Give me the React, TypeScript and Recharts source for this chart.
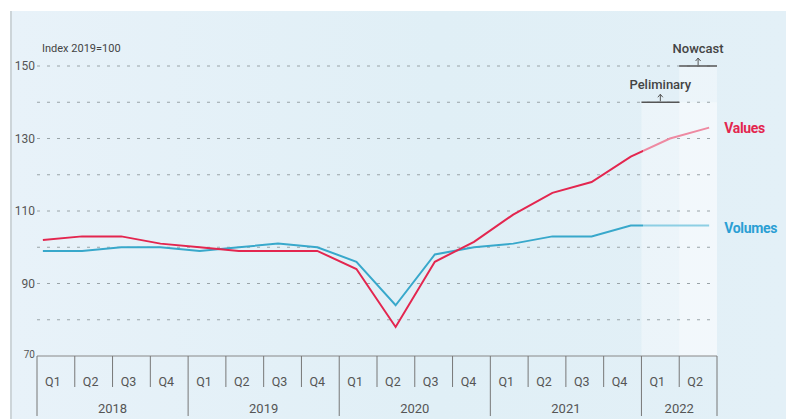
import {
  LineChart,
  Line,
  XAxis,
  YAxis,
  ReferenceLine,
  ReferenceArea,
  LabelList
} from 'recharts';

// quarters Q1 2018 .. Q2 2022
const quarters = ['Q1', 'Q2', 'Q3', 'Q4', 'Q1', 'Q2', 'Q3', 'Q4', 'Q1', 'Q2', 'Q3', 'Q4', 'Q1', 'Q2', 'Q3', 'Q4', 'Q1', 'Q2'];
const years = [2018, 2018, 2018, 2018, 2019, 2019, 2019, 2019, 2020, 2020, 2020, 2020, 2021, 2021, 2021, 2021, 2022, 2022];

// Index 2019=100
const valuesIdx = [102, 103, 103, 101, 100, 99, 99, 99, 94, 78, 96, 101.5, 109, 115, 118, 125, 130, 133];
const volumesIdx = [99, 99, 100, 100, 99, 100, 101, 100, 96, 84, 98, 100, 101, 103, 103, 106, 106, 106];

const yTicks = [70, 90, 110, 130, 150];
const gridLevels = [80, 90, 100, 110, 120, 130, 140, 150];

const data = quarters.map((quarter, i) => ({
  i,
  q: i + 0.5,
  quarter,
  year: years[i],
  values: valuesIdx[i],
  volumes: volumesIdx[i],
}));

const RED = '#e3264f';
const BLUE = '#38a8cb';
const CW = 680 / quarters.length;
const FONT = 'Roboto, "Noto Sans", sans-serif';

const QuarterTick = ({ x, y, payload }: any) => {
  const idx = Math.floor(payload.value);
  const d = data[idx];
  const firstOfYear = idx === 0 || years[idx - 1] !== d.year;
  const n = years.filter((yr) => yr === d.year).length;
  const left = x - CW / 2;
  return (
    <g>
      <line x1={left} x2={left} y1={y} y2={y + (firstOfYear ? 60 : 31)} stroke="#777" strokeWidth={1} />
      {idx === data.length - 1 && (
        <line x1={x + CW / 2} x2={x + CW / 2} y1={y} y2={y + 60} stroke="#777" strokeWidth={1} />
      )}
      <text x={x - 3} y={y + 30} textAnchor="middle" fill="#555" fontSize={12.5} fontFamily={FONT}>
        {d.quarter}
      </text>
      {firstOfYear && (
        <text x={left + (n * CW) / 2} y={y + 57} textAnchor="middle" fill="#555" fontSize={13} fontFamily={FONT}>
          {d.year}
        </text>
      )}
    </g>
  );
};

const ValueTick = ({ x, y, payload }: any) => (
  <text
    x={x}
    y={y}
    dy={payload.value === 70 ? 2 : 4}
    textAnchor="end"
    fill="#555"
    fontSize={payload.value === 70 ? 10 : 12}
    fontFamily={FONT}
  >
    {payload.value}
  </text>
);

const annotation = (text: string) => (props: any) => {
  const vb = props.viewBox;
  if (!vb) return null;
  const cx = vb.x + vb.width / 2;
  const y = vb.y;
  return (
    <g>
      <path d={`M${cx},${y - 1} V${y - 8} M${cx - 2.5},${y - 5} L${cx},${y - 8} L${cx + 2.5},${y - 5}`} stroke="#555" fill="none" strokeWidth={1} />
      <text x={cx} y={y - 13} textAnchor="middle" fill="#444" fontSize={13} fontWeight={500} fontFamily={FONT}>
        {text}
      </text>
    </g>
  );
};

const endLabel = (text: string, color: string, dy: number) => (props: any) => {
  if (props.index !== data.length - 1) return null;
  return (
    <text x={props.x + 15} y={props.y + dy} fill={color} fontSize={14} fontWeight={700} fontFamily={FONT} letterSpacing={-0.3}>
      {text}
    </text>
  );
};

export default function App() {
  return (
    <div style={{ position: 'relative', width: 786, height: 419, background: '#fff', overflow: 'hidden' }}>
      <style>{'body{margin:0}'}</style>
      <div
        style={{
          position: 'absolute',
          left: 10,
          top: 11,
          right: 0,
          bottom: 0,
          borderLeft: '2px solid #cdd5d9',
          background: 'linear-gradient(90deg, #e8f2f9 0%, #e0eff6 55%, #e3f0f7 100%)',
        }}
      />
      <div
        style={{
          position: 'absolute',
          left: 42,
          top: 42,
          fontFamily: FONT,
          fontSize: 11,
          color: '#444',
        }}
      >
        Index 2019=100
      </div>
      <LineChart
        width={786}
        height={419}
        data={data}
        margin={{ top: 66, right: 69, bottom: 0, left: 0 }}
        style={{ position: 'absolute', left: 0, top: 0 }}
      >
        <defs>
          <linearGradient id="valuesStroke" x1="0" y1="0" x2="1" y2="0">
            <stop offset="0.9" stopColor={RED} />
            <stop offset="0.9" stopColor="#ee8aa2" />
          </linearGradient>
          <linearGradient id="volumesStroke" x1="0" y1="0" x2="1" y2="0">
            <stop offset="0.9" stopColor={BLUE} />
            <stop offset="0.9" stopColor="#8dcfe4" />
          </linearGradient>
        </defs>
        <XAxis xAxisId="pts" dataKey="i" type="number" domain={[-0.15, 17.2]} hide height={0} allowDataOverflow />
        <XAxis
          xAxisId="q"
          dataKey="q"
          type="number"
          domain={[0, 18]}
          ticks={data.map((d) => d.q)}
          tick={<QuarterTick />}
          tickLine={false}
          tickSize={0}
          tickMargin={0}
          axisLine={{ stroke: '#888' }}
          height={63}
          interval={0}
          allowDataOverflow
        />
        <YAxis
          domain={[70, 150]}
          ticks={yTicks}
          width={37}
          axisLine={false}
          tickLine={false}
          tickSize={0}
          tickMargin={2}
          tick={<ValueTick />}
          interval={0}
          allowDataOverflow
        />
        {gridLevels.map((v) => (
          <ReferenceLine key={v} xAxisId="q" y={v} stroke="#9aa4a8" strokeDasharray="3 7" strokeWidth={1} />
        ))}
        <ReferenceArea xAxisId="q" x1={16} x2={18} y1={70} y2={140} fill="#ffffff" fillOpacity={0.35} stroke="none" />
        <ReferenceArea xAxisId="q" x1={17} x2={18} y1={70} y2={150} fill="#ffffff" fillOpacity={0.35} stroke="none" />
        <ReferenceLine
          xAxisId="q"
          segment={[{ x: 16, y: 140 }, { x: 17, y: 140 }]}
          stroke="#555"
          strokeWidth={1.3}
          label={annotation('Peliminary')}
        />
        <ReferenceLine
          xAxisId="q"
          segment={[{ x: 17, y: 150 }, { x: 18, y: 150 }]}
          stroke="#555"
          strokeWidth={1.3}
          label={annotation('Nowcast')}
        />
        <Line
          xAxisId="pts"
          type="linear"
          dataKey="volumes"
          stroke="url(#volumesStroke)"
          strokeWidth={2}
          dot={false}
          isAnimationActive={false}
        >
          <LabelList dataKey="volumes" content={endLabel('Volumes', '#2b9fd4', 7)} />
        </Line>
        <Line
          xAxisId="pts"
          type="linear"
          dataKey="values"
          stroke="url(#valuesStroke)"
          strokeWidth={2}
          dot={false}
          isAnimationActive={false}
        >
          <LabelList dataKey="values" content={endLabel('Values', RED, 5)} />
        </Line>
      </LineChart>
    </div>
  );
}
